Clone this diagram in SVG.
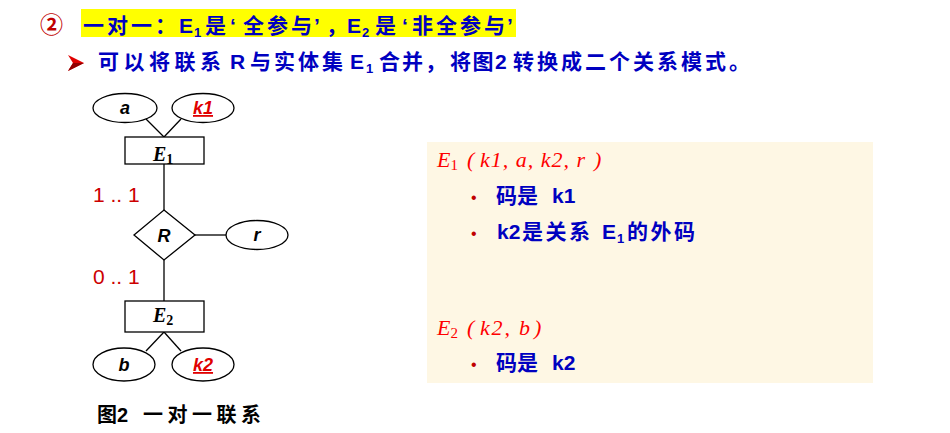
<svg xmlns="http://www.w3.org/2000/svg" width="950" height="433" viewBox="0 0 950 433">
<style>
.cjk{font-family:"Liberation Sans","Noto Sans CJK SC",sans-serif;font-weight:bold;fill:#0000C0;font-size:21px;}
.ls{letter-spacing:3px;}
.sub{font-size:13px;}
.mathr{font-family:"Liberation Serif",serif;font-style:italic;fill:#FF0000;font-size:22px;}
.line{stroke:#000;stroke-width:1.3;fill:none;}
.shape{stroke:#000;stroke-width:1.3;fill:#fff;}
.attr{font-family:"Liberation Sans",sans-serif;font-weight:bold;font-style:italic;font-size:18px;text-anchor:middle;}
.key{fill:#E00000;text-decoration:underline;}
.ent{font-family:"Liberation Serif",serif;font-style:italic;font-weight:bold;font-size:20px;fill:#000;}
.card{font-family:"Liberation Sans",sans-serif;font-size:21px;fill:#CC0000;}
.bul{font-family:"Liberation Sans",sans-serif;font-size:16px;fill:#C00000;}
</style>

<!-- header -->
<g id="header">
  <rect x="81" y="9" width="435" height="28" fill="#FFFF00"/>
  <text x="40" y="33" font-family="Noto Sans CJK SC,sans-serif" font-weight="bold" font-size="23" fill="#C00000">②</text>
  <g class="cjk">
    <text x="83" y="33" class="ls">一对一：</text>
    <text x="179" y="33">E</text>
    <text x="194" y="37" class="sub">1</text>
    <text x="205" y="33">是</text>
    <text x="230" y="33">‘</text>
    <text x="243" y="33" class="ls">全参与</text>
    <text x="314" y="33">’</text>
    <text x="326" y="33">，</text>
    <text x="347" y="33">E</text>
    <text x="362" y="37" class="sub">2</text>
    <text x="375" y="33">是</text>
    <text x="402" y="33">‘</text>
    <text x="412" y="33" class="ls">非全参与</text>
    <text x="507" y="33">’</text>
  </g>
  <polygon points="68,55 84,63 68,71 73,63" fill="#E00000"/>
  <polygon points="73,63 84,63 68,71" fill="#900000"/>
  <g class="cjk">
    <text x="98" y="69" letter-spacing="4.5">可以将联系</text>
    <text x="230" y="69">R</text>
    <text x="250" y="69" class="ls">与实体集</text>
    <text x="350" y="69">E</text>
    <text x="366" y="73" class="sub">1</text>
    <text x="379" y="69" letter-spacing="2">合并，</text>
    <text x="450" y="69" letter-spacing="1.5">将图</text>
    <text x="495" y="69">2</text>
    <text x="513" y="69" class="ls">转换成二个关系模式。</text>
  </g>
</g>

<!-- connectors -->
<g id="connectors">
  <line class="line" x1="146" y1="119" x2="164" y2="137"/>
  <line class="line" x1="181" y1="119" x2="164" y2="137"/>
  <line class="line" x1="164" y1="164" x2="164" y2="210"/>
  <line class="line" x1="195" y1="235" x2="226" y2="235"/>
  <line class="line" x1="164" y1="260" x2="164" y2="301"/>
  <line class="line" x1="164" y1="332" x2="146" y2="351"/>
  <line class="line" x1="164" y1="332" x2="181" y2="351"/>
</g>

<g id="attr-a">
  <ellipse class="shape" cx="125" cy="108" rx="32" ry="14.5"/>
  <text class="attr" x="125" y="114">a</text>
</g>
<g id="attr-k1">
  <ellipse class="shape" cx="203" cy="108" rx="31" ry="14.5"/>
  <text class="attr key" x="203" y="114">k1</text>
</g>
<g id="entity-E1">
  <rect class="shape" x="125" y="137" width="79" height="27"/>
  <text class="ent" x="153" y="161">E<tspan font-size="14" font-style="normal" dy="3">1</tspan></text>
</g>
<g id="rel-R">
  <polygon class="shape" points="164,210 195,235 164,260 134,235"/>
  <text class="attr" x="164" y="242">R</text>
</g>
<g id="attr-r">
  <ellipse class="shape" cx="257" cy="235" rx="31" ry="14.5"/>
  <text class="attr" x="257" y="241">r</text>
</g>
<g id="entity-E2">
  <rect class="shape" x="125" y="301" width="79" height="31"/>
  <text class="ent" x="153" y="322">E<tspan font-size="14" font-style="normal" dy="3">2</tspan></text>
</g>
<g id="attr-b">
  <ellipse class="shape" cx="124" cy="364.5" rx="31" ry="16.5"/>
  <text class="attr" x="124" y="371">b</text>
</g>
<g id="attr-k2">
  <ellipse class="shape" cx="203" cy="364.5" rx="31" ry="16.5"/>
  <text class="attr key" x="203" y="371">k2</text>
</g>
<text class="card" x="93" y="202">1 .. 1</text>
<text class="card" x="93" y="284">0 .. 1</text>
<text x="97" y="422" font-family="Liberation Sans,Noto Sans CJK SC,sans-serif" font-weight="bold" font-size="20" fill="#000"><tspan>图2</tspan><tspan x="143" letter-spacing="4.5">一对一联系</tspan></text>

<!-- right panel -->
<g id="panel">
  <rect x="427" y="142" width="446" height="241" fill="#FEF7E4"/>
  <text class="mathr" x="437" y="167">E<tspan font-size="15" font-style="normal" dy="3">1</tspan></text>
  <text class="mathr" x="467" y="167">(</text>
  <text class="mathr" x="480" y="167" textLength="105" lengthAdjust="spacing">k1, a, k2, r</text>
  <text class="mathr" x="594" y="167">)</text>
  <text class="bul" x="471" y="203">•</text>
  <g class="cjk">
    <text x="496" y="203">码是</text>
    <text x="552" y="203">k1</text>
  </g>
  <text class="bul" x="471" y="239">•</text>
  <g class="cjk">
    <text x="497" y="239">k2</text>
    <text x="522" y="239" letter-spacing="2.5">是关系</text>
    <text x="602" y="239">E</text>
    <text x="617" y="243" class="sub">1</text>
    <text x="627" y="239" letter-spacing="2.5">的外码</text>
  </g>
  <text class="mathr" x="437" y="335">E<tspan font-size="15" font-style="normal" dy="3">2</tspan></text>
  <text class="mathr" x="467" y="335">(</text>
  <text class="mathr" x="480" y="335" textLength="50" lengthAdjust="spacing">k2, b</text>
  <text class="mathr" x="534" y="335">)</text>
  <text class="bul" x="471" y="370">•</text>
  <g class="cjk">
    <text x="496" y="370">码是</text>
    <text x="552" y="370">k2</text>
  </g>
</g>
</svg>
